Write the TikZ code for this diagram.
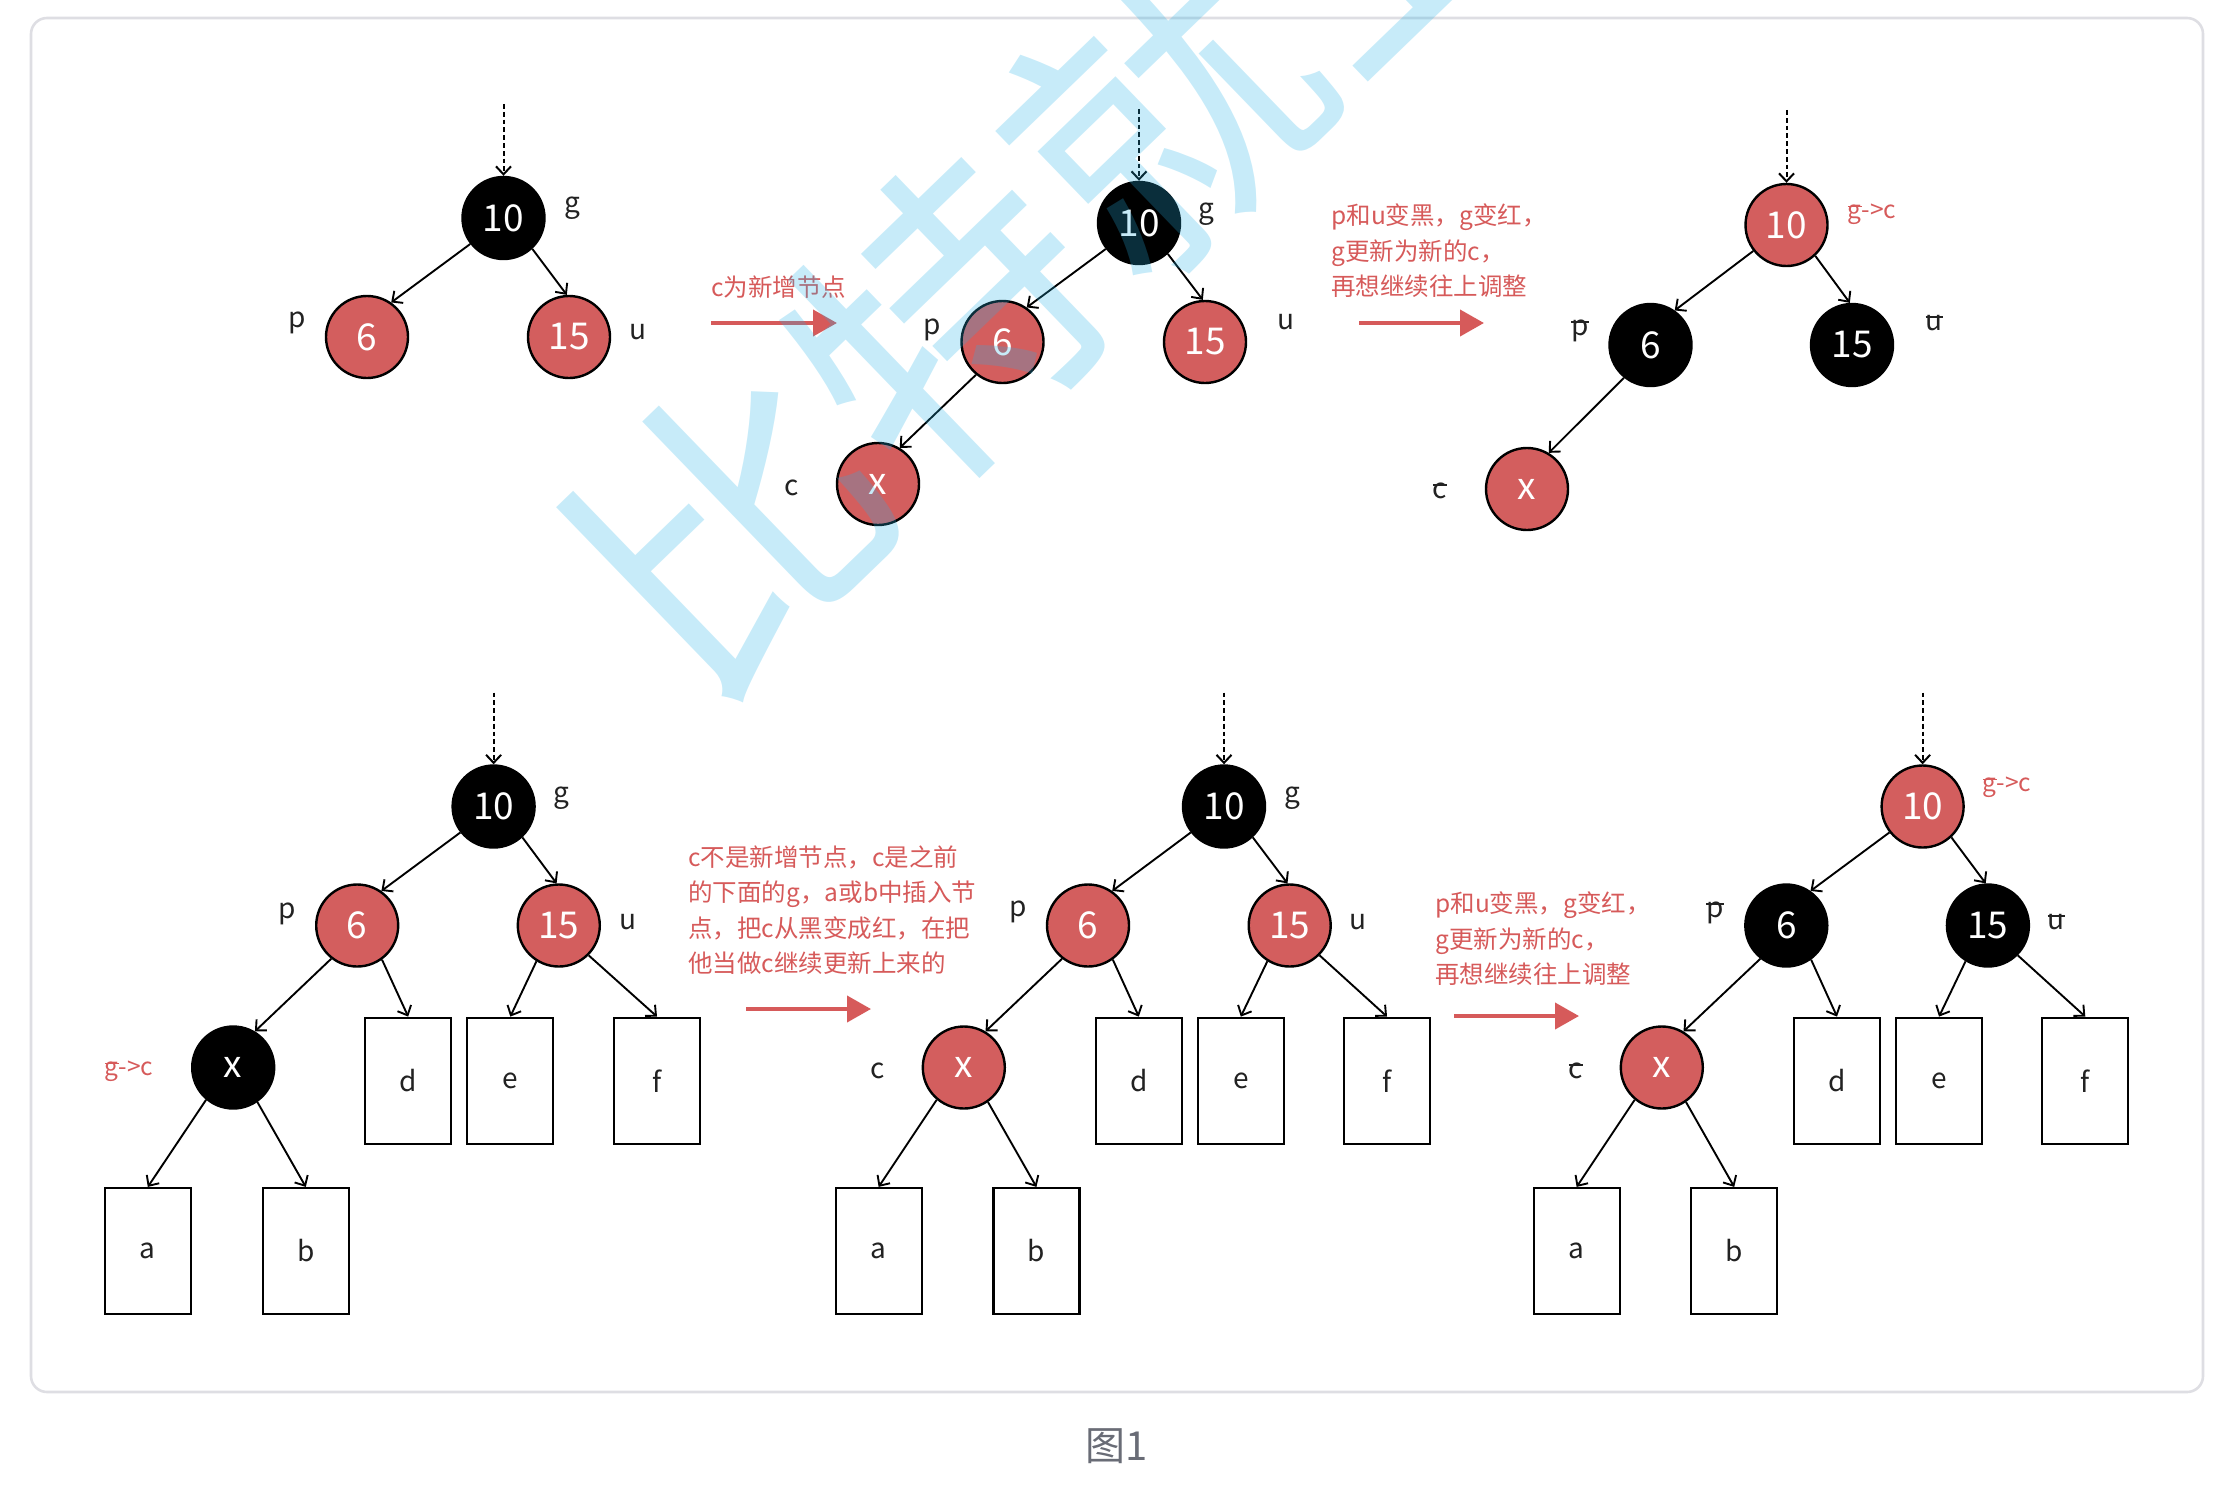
\documentclass[tikz,border=0pt]{standalone}
\usepackage{fontspec}
\setmainfont{Noto Sans CJK SC}
\usetikzlibrary{arrows.meta}
\definecolor{nodered}{RGB}{211,94,94}
\definecolor{notered}{RGB}{214,90,90}
\definecolor{labelink}{RGB}{34,34,34}
\definecolor{framegray}{RGB}{222,222,227}
\definecolor{capgray}{RGB}{105,108,118}
\definecolor{wmblue}{RGB}{40,178,230}
\newsavebox\stkbox
\newcommand\stk[1]{\sbox\stkbox{#1}\rlap{\usebox\stkbox}\rule[0.45em]{\wd\stkbox}{0.06em}}
\begin{document}
\begin{tikzpicture}[x=0.5pt,y=-0.5pt,
 rn/.style={circle,draw=black,line width=1.2pt,fill=nodered,text=white,minimum size=41pt,inner sep=0pt,font=\fontsize{18.5}{20}\selectfont},
 bn/.style={rn,fill=black},
 leaf/.style={draw=black,line width=1.1pt,minimum width=43pt,minimum height=63pt,inner sep=0pt,font=\fontsize{14}{16}\selectfont,text=labelink},
 lab/.style={inner sep=0pt,font=\fontsize{14}{16}\selectfont,text=labelink},
 redlab/.style={inner sep=0pt,font=\fontsize{12.25}{14}\selectfont,text=notered},
 note/.style={inner sep=0pt,anchor=west,align=left,font=\fontsize{12.25}{17.75}\selectfont,text=notered},
 edge/.style={-{Straight Barb[length=4pt,width=7.5pt]},line width=0.95pt},
 feed/.style={edge,line width=1pt,dash pattern=on 2.4pt off 1.5pt},
 bigarrow/.style={-{Triangle[length=12pt,width=13pt]},line width=2pt,draw=notered}
]
\useasboundingbox (0,0) rectangle (2231,1493);
\draw[draw=framegray,line width=1.3pt,rounded corners=8pt] (31,18) rectangle (2203,1392);
\node[inner sep=0pt,text=capgray,font=\fontsize{20}{22}\selectfont] (cap) at (1117,1446) {图1};

% ---- top tree 1
\node[bn] (t1g) at (503.5,218) {10};
\node[rn] (t1p) at (367,337) {6};
\node[rn] (t1u) at (569,337) {15};
\coordinate (t1in) at (503.5,104);
\draw[feed] (t1in) -- (t1g.north);
\draw[edge] (t1g.-142) -- (t1p.55);
\draw[edge] (t1g.-47) -- (t1u.93);
\node[lab] (t1gl) at (572,208) {g};
\node[lab] (t1pl) at (297,323) {p};
\node[lab] (t1ul) at (638,332) {u};

\coordinate (a1s) at (711,323); \coordinate (a1e) at (837,323);
\draw[bigarrow] (a1s) -- (a1e);
\node[redlab,anchor=west] (a1t) at (711,287) {c为新增节点};

% ---- top tree 2
\node[bn] (t2g) at (1139,223) {10};
\node[rn] (t2p) at (1002.5,342) {6};
\node[rn] (t2u) at (1205,342) {15};
\node[rn] (t2c) at (878,484) {x};
\coordinate (t2in) at (1139,109);
\draw[feed] (t2in) -- (t2g.north);
\draw[edge] (t2g.-142) -- (t2p.55);
\draw[edge] (t2g.-47) -- (t2u.93);
\draw[edge] (t2p.-129) -- (t2c.59);
\node[lab] (t2gl) at (1206,214) {g};
\node[lab] (t2pl) at (932,330) {p};
\node[lab] (t2ul) at (1286,322) {u};
\node[lab] (t2cl) at (792,488) {c};

\coordinate (a2s) at (1359,323); \coordinate (a2e) at (1484,323);
\draw[bigarrow] (a2s) -- (a2e);
\node[note] (a2t) at (1331,251) {p和u变黑，g变红，\\g更新为新的c，\\再想继续往上调整};

% ---- top tree 3
\node[rn] (t3g) at (1786.5,225) {10};
\node[bn] (t3p) at (1650.5,345) {6};
\node[bn] (t3u) at (1852,345) {15};
\node[rn] (t3c) at (1527,489) {x};
\coordinate (t3in) at (1786.5,110);
\draw[feed] (t3in) -- (t3g.north);
\draw[edge] (t3g.-142) -- (t3p.55);
\draw[edge] (t3g.-47) -- (t3u.93);
\draw[edge] (t3p.-129) -- (t3c.59);
\node[redlab] (t3gl) at (1872,214) {\stk{g}->c};
\node[lab] (t3pl) at (1580,331) {\stk{p}};
\node[lab] (t3ul) at (1934,323) {\stk{u}};
\node[lab] (t3cl) at (1440,491) {\stk{c}};

% ---- bottom tree 1
\node[bn] (b1g) at (493.6,806.5) {10};
\node[rn] (b1p) at (357.2,925.5) {6};
\node[rn] (b1u) at (558.8,925.5) {15};
\node[bn] (b1c) at (233.2,1067.5) {x};
\node[leaf] (b1d) at (408.2,1080.7) {d};
\node[leaf] (b1e) at (510.3,1080.7) {e};
\node[leaf] (b1f) at (657,1080.7) {f};
\node[leaf] (b1a) at (147.8,1251) {a};
\node[leaf] (b1b) at (305.8,1251) {b};
\coordinate (b1in) at (493.6,692.5);
\draw[feed] (b1in) -- (b1g.north);
\draw[edge] (b1g.-142) -- (b1p.55);
\draw[edge] (b1g.-47) -- (b1u.93);
\draw[edge] (b1p.-128) -- (b1c.59);
\draw[edge] (b1p.-54) -- (b1d.north);
\draw[edge] (b1u.-122) -- (b1e.north);
\draw[edge] (b1u.-45) -- (b1f.north);
\draw[edge] (b1c.-130) -- (b1a.north);
\draw[edge] (b1c.-55) -- (b1b.north);
\node[lab] (b1gl) at (561,798) {g};
\node[lab] (b1pl) at (287,914) {p};
\node[lab] (b1ul) at (628,922) {u};
\node[redlab] (b1cl) at (129,1071) {\stk{g}->c};

\node[note] (a3t) at (688,910) {c不是新增节点，c是之前\\的下面的g，a或b中插入节\\点，把c从黑变成红，在把\\他当做c继续更新上来的};
\coordinate (a3s) at (746,1009); \coordinate (a3e) at (871,1009);
\draw[bigarrow] (a3s) -- (a3e);

% ---- bottom tree 2
\node[bn] (b2g) at (1224,806.5) {10};
\node[rn] (b2p) at (1088,925.5) {6};
\node[rn] (b2u) at (1289.7,925.5) {15};
\node[rn] (b2c) at (963.8,1067.5) {x};
\node[leaf] (b2d) at (1138.8,1080.7) {d};
\node[leaf] (b2e) at (1240.8,1080.7) {e};
\node[leaf] (b2f) at (1387,1080.7) {f};
\node[leaf] (b2a) at (878.6,1251) {a};
\node[leaf] (b2b) at (1036.4,1251) {b};
\coordinate (b2in) at (1224,692.5);
\draw[feed] (b2in) -- (b2g.north);
\draw[edge] (b2g.-142) -- (b2p.55);
\draw[edge] (b2g.-47) -- (b2u.93);
\draw[edge] (b2p.-128) -- (b2c.59);
\draw[edge] (b2p.-54) -- (b2d.north);
\draw[edge] (b2u.-122) -- (b2e.north);
\draw[edge] (b2u.-45) -- (b2f.north);
\draw[edge] (b2c.-130) -- (b2a.north);
\draw[edge] (b2c.-55) -- (b2b.north);
\node[lab] (b2gl) at (1292,798) {g};
\node[lab] (b2pl) at (1018,912) {p};
\node[lab] (b2ul) at (1358,922) {u};
\node[lab] (b2cl) at (878,1071) {c};

\node[note] (a4t) at (1435,939) {p和u变黑，g变红，\\g更新为新的c，\\再想继续往上调整};
\coordinate (a4s) at (1454,1016); \coordinate (a4e) at (1579,1016);
\draw[bigarrow] (a4s) -- (a4e);

% ---- bottom tree 3
\node[rn] (b3g) at (1922.6,806.5) {10};
\node[bn] (b3p) at (1786.3,925.5) {6};
\node[bn] (b3u) at (1987.9,925.5) {15};
\node[rn] (b3c) at (1661.8,1067.5) {x};
\node[leaf] (b3d) at (1837,1080.7) {d};
\node[leaf] (b3e) at (1939,1080.7) {e};
\node[leaf] (b3f) at (2085.3,1080.7) {f};
\node[leaf] (b3a) at (1576.6,1251) {a};
\node[leaf] (b3b) at (1734.2,1251) {b};
\coordinate (b3in) at (1922.6,692.5);
\draw[feed] (b3in) -- (b3g.north);
\draw[edge] (b3g.-142) -- (b3p.55);
\draw[edge] (b3g.-47) -- (b3u.93);
\draw[edge] (b3p.-128) -- (b3c.59);
\draw[edge] (b3p.-54) -- (b3d.north);
\draw[edge] (b3u.-122) -- (b3e.north);
\draw[edge] (b3u.-45) -- (b3f.north);
\draw[edge] (b3c.-130) -- (b3a.north);
\draw[edge] (b3c.-55) -- (b3b.north);
\node[redlab] (b3gl) at (2007,787) {\stk{g}->c};
\node[lab] (b3pl) at (1715,913) {\stk{p}};
\node[lab] (b3ul) at (2056,922) {\stk{u}};
\node[lab] (b3cl) at (1576,1071) {\stk{c}};

% ---- watermark
\begin{scope}
\clip (0,0) rectangle (2231,1493);
\node[rotate=44,anchor=west,inner sep=0pt,text=wmblue,text opacity=0.26,font=\fontsize{150}{150}\selectfont] (wm) at (622,632) {比特就业课};
\end{scope}
\end{tikzpicture}
\end{document}
